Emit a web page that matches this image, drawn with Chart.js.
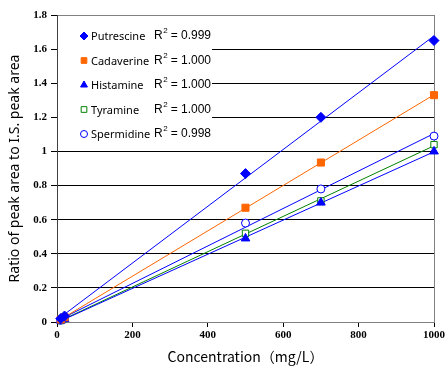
<!DOCTYPE html>
<html>
<head>
<meta charset="utf-8">
<script src="https://cdn.jsdelivr.net/npm/chart.js@4"></script>
<style>
  html, body { margin: 0; padding: 0; background: #fff; }
  #wrap { width: 447px; height: 370px; }
</style>
</head>
<body>
<div id="wrap"><canvas id="grafica"></canvas></div>
<script>
// ---------------- datos ----------------
var conc = [10, 20, 500, 700, 1000];
var names = ['Putrescine', 'Cadaverine', 'Histamine', 'Tyramine', 'Spermidine'];
var putrescine = [0.02, 0.035, 0.87, 1.20, 1.65];
var cadaverine = [0.015, 0.028, 0.67, 0.935, 1.33];
var histamine = [0.008, 0.018, 0.49, 0.70, 1.00];
var tyramine = [0.009, 0.02, 0.52, 0.71, 1.04];
var spermidine = [0.01, 0.022, 0.58, 0.78, 1.09];
var r2 = ['0.999', '1.000', '1.000', '1.000', '0.998'];
var xTicks = [0, 200, 400, 600, 800, 1000];

var series = [putrescine, cadaverine, histamine, tyramine, spermidine];
var colores = ['#0000FF', '#FF6600', '#0000FF', '#008000', '#0000FF'];
var formas = ['rectRot', 'rect', 'triangle', 'rect', 'circle'];
var rellenos = ['#0000FF', '#FF6600', '#0000FF', '#FFFFFF', '#FFFFFF'];
var radios = [5, 5, 5, 4.5, 4];

// recta de minimos cuadrados para cada serie
function ajuste(xs, ys) {
    var n = xs.length, sx = 0, sy = 0, sxx = 0, sxy = 0;
    for (var i = 0; i < n; i++) {
        sx += xs[i]; sy += ys[i]; sxx += xs[i] * xs[i]; sxy += xs[i] * ys[i];
    }
    var m = (n * sxy - sx * sy) / (n * sxx - sx * sx);
    var b = (sy - m * sx) / n;
    var x0 = Math.min.apply(null, xs), x1 = Math.max.apply(null, xs);
    return [{x: x0, y: m * x0 + b}, {x: x1, y: m * x1 + b}];
}

var datasets = [];
for (var k = 0; k < series.length; k++) {
    datasets.push({
        label: names[k],
        data: conc.map(function (c, i) { return {x: c, y: series[k][i]}; }),
        showLine: false,
        pointStyle: formas[k],
        pointRadius: radios[k],
        pointBackgroundColor: rellenos[k],
        pointBorderColor: colores[k],
        pointBorderWidth: 1,
        clip: false,
        order: 0
    });
    datasets.push({
        label: names[k] + ' fit',
        data: ajuste(conc, series[k]),
        showLine: true,
        borderColor: colores[k],
        borderWidth: 1,
        pointRadius: 0,
        order: 1
    });
}

// leyenda dibujada dentro del area del grafico
var leyenda = {
    id: 'leyenda',
    beforeDatasetsDraw: function (chart) {
        var ctx = chart.ctx, a = chart.chartArea;
        ctx.save();
        ctx.fillStyle = '#fff';
        ctx.fillRect(a.left + 1, a.top + 1, 154, 120);
        // marco derecho
        ctx.strokeStyle = '#808080';
        ctx.lineWidth = 1;
        ctx.beginPath();
        ctx.moveTo(Math.round(a.right) + 0.5, a.top);
        ctx.lineTo(Math.round(a.right) + 0.5, a.bottom);
        ctx.stroke();
        ctx.textBaseline = 'middle';
        for (var k = 0; k < names.length; k++) {
            var y = a.top + 21 + k * 24.5;
            ctx.fillStyle = rellenos[k];
            ctx.strokeStyle = colores[k];
            ctx.lineWidth = 1;
            var rl = formas[k] === 'circle' ? 3.5 : 4;
            Chart.helpers.drawPoint(ctx, {pointStyle: formas[k], radius: rl, borderWidth: 1, rotation: 0}, a.left + 27, y);
            ctx.fillStyle = '#000';
            ctx.font = '11px "Noto Sans"';
            ctx.textAlign = 'left';
            ctx.fillText(names[k], a.left + 34, y + 1);
            ctx.font = '12px "Liberation Sans"';
            var xr = a.left + 97;
            ctx.fillText('R', xr, y);
            var wR = ctx.measureText('R').width;
            ctx.font = '8px "Liberation Sans"';
            ctx.fillText('2', xr + wR + 0.5, y - 5);
            ctx.font = '12px "Liberation Sans"';
            ctx.fillText('= ' + r2[k], xr + wR + 8, y);
        }
        ctx.restore();
    }
};

var c = document.getElementById('grafica');
var chart = new Chart(c, {
    type: 'scatter',
    data: {datasets: datasets},
    plugins: [leyenda],
    options: {
        responsive: true,
        maintainAspectRatio: false,
        animation: false,
        layout: {padding: {left: 0, right: 12, top: 15, bottom: 0}},
        plugins: {
            legend: {display: false},
            tooltip: {enabled: false}
        },
        scales: {
            x: {
                type: 'linear',
                min: 0,
                max: 1000,
                afterBuildTicks: function (s) { s.ticks = xTicks.map(function (v) { return {value: v}; }); },
                afterFit: function (s) { s.height = 48; },
                ticks: {
                    color: '#000',
                    font: {family: '"Liberation Serif"', size: 11, weight: 'bold'},
                    padding: 2,
                    maxRotation: 0,
                    callback: function (v) { return String(v); }
                },
                grid: {drawOnChartArea: false, color: '#000', tickLength: 5, tickColor: '#000'},
                border: {color: '#808080', width: 1},
                title: {
                    display: true,
                    text: 'Concentration（mg/L）',
                    color: '#000',
                    font: {family: '"Noto Sans CJK JP"', size: 14},
                    padding: {top: 2, bottom: 5}
                }
            },
            y: {
                min: 0,
                max: 1.8,
                afterFit: function (s) { s.width = 57; },
                ticks: {
                    stepSize: 0.2,
                    color: '#000',
                    font: {family: '"Liberation Serif"', size: 11, weight: 'bold'},
                    padding: 4,
                    callback: function (v) { return +v.toFixed(1); }
                },
                grid: {
                    color: function (ctx) { return ctx.tick && ctx.tick.value >= 1.79 ? '#808080' : '#000'; },
                    tickColor: '#000',
                    tickLength: 6
                },
                border: {color: '#404040', width: 1},
                title: {
                    display: true,
                    text: 'Ratio of peak area to I.S. peak area',
                    color: '#000',
                    font: {family: '"Noto Sans"', size: 14},
                    padding: {top: 7, bottom: 2}
                }
            }
        }
    }
});
</script>
</body>
</html>
